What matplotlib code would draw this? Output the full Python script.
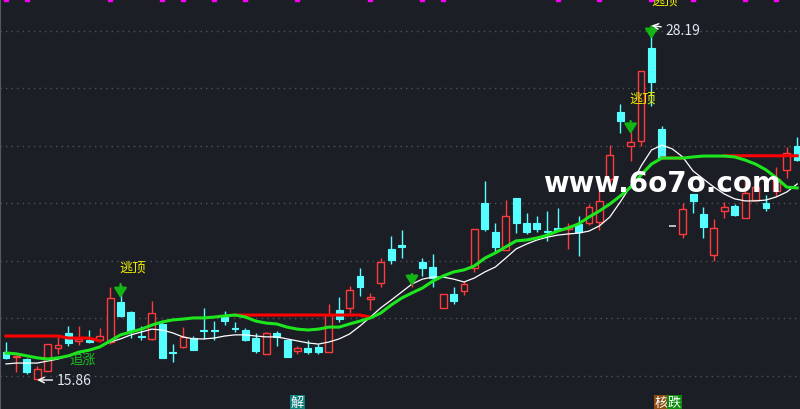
import matplotlib
matplotlib.use('Agg')
import matplotlib.pyplot as plt
import matplotlib.transforms as mtransforms
from matplotlib.patches import Rectangle
import numpy as np

plt.rcParams['font.family'] = ['Noto Sans CJK SC', 'DejaVu Sans']

# daily candles
opens = [16.83, 16.66, 16.59, 15.90, 16.17, 16.97, 17.50, 17.22, 17.25, 17.25,
         17.18, 18.57, 18.23, 17.39, 17.29, 17.81, 16.83, 17.01, 17.32, 17.60,
         17.60, 18.05, 17.67, 17.60, 17.32, 16.77, 17.50, 17.25, 16.87, 16.97,
         17.01, 16.83, 18.30, 18.37, 19.48, 18.68, 19.23, 20.42, 20.56, 19.37,
         19.97, 19.79, 18.37, 18.85, 18.96, 19.76, 22.02, 21.01, 20.38, 22.19,
         21.32, 21.32, 21.04, 21.15, 21.11, 21.29, 21.32, 21.36, 22.85, 25.18,
         24.00, 24.17, 27.41, 24.59, 21.22, 20.94, 22.33, 21.63, 20.21, 21.74,
         21.91, 21.50, 22.12, 22.02, 22.43, 23.17, 24.00]
highs = [17.18, 16.73, 16.63, 16.35, 17.11, 17.36, 17.74, 17.74, 17.60, 17.67,
         19.10, 19.17, 18.26, 17.74, 18.61, 17.91, 17.11, 17.70, 17.39, 18.37,
         17.91, 18.26, 17.88, 17.67, 17.50, 17.53, 17.57, 17.25, 17.04, 17.25,
         17.11, 18.50, 18.75, 19.13, 19.76, 18.89, 20.10, 20.87, 21.08, 19.51,
         20.10, 20.24, 18.85, 19.10, 19.30, 21.11, 22.78, 21.32, 22.12, 22.19,
         21.67, 21.57, 21.74, 21.84, 21.32, 21.57, 21.98, 22.43, 24.03, 25.46,
         24.49, 26.61, 28.19, 24.70, 21.22, 22.02, 22.33, 21.88, 21.46, 22.05,
         21.98, 22.78, 22.92, 22.30, 23.27, 23.97, 24.31]
lows = [16.59, 16.14, 16.07, 15.86, 16.17, 16.77, 17.04, 17.08, 17.15, 17.18,
        17.11, 18.05, 17.32, 17.25, 17.25, 16.63, 16.49, 16.97, 16.90, 17.29,
        17.25, 17.77, 17.53, 17.22, 16.80, 16.77, 17.04, 16.66, 16.77, 16.77,
        16.77, 16.83, 17.88, 18.19, 18.78, 18.30, 19.10, 19.90, 20.10, 19.10,
        19.48, 19.10, 18.37, 18.50, 18.82, 19.62, 21.04, 20.31, 20.38, 20.97,
        20.94, 21.01, 20.70, 21.04, 20.42, 20.17, 21.25, 21.08, 22.75, 24.45,
        23.48, 24.00, 25.39, 23.55, 21.22, 20.80, 21.67, 20.80, 20.00, 21.50,
        21.57, 21.50, 22.12, 21.74, 22.26, 22.89, 23.48]
closes = [16.63, 16.70, 16.14, 16.24, 17.11, 17.08, 17.15, 17.29, 17.18, 17.39,
          18.71, 18.09, 17.57, 17.36, 18.19, 16.63, 16.80, 17.36, 16.90, 17.57,
          17.57, 17.91, 17.63, 17.25, 16.87, 17.50, 17.36, 16.66, 16.97, 16.83,
          16.83, 18.12, 17.98, 18.99, 19.10, 18.75, 19.97, 20.03, 20.49, 19.48,
          19.76, 19.41, 18.85, 18.61, 19.20, 21.11, 21.11, 20.49, 21.57, 21.32,
          21.01, 21.11, 21.01, 21.08, 21.18, 21.01, 21.88, 22.09, 23.69, 24.87,
          24.14, 26.61, 26.23, 23.58, 21.22, 21.81, 22.09, 21.18, 21.15, 21.88,
          21.60, 22.37, 22.57, 21.84, 22.85, 23.76, 23.51]

# moving averages
ma_white = [16.42, 16.45, 16.45, 16.45, 16.52, 16.59, 16.70, 16.80, 16.90, 17.01,
            17.18, 17.29, 17.43, 17.53, 17.63, 17.60, 17.50, 17.36, 17.29, 17.29,
            17.32, 17.39, 17.43, 17.43, 17.39, 17.36, 17.36, 17.29, 17.22, 17.15,
            17.11, 17.18, 17.29, 17.46, 17.74, 18.05, 18.37, 18.64, 18.92, 19.20,
            19.37, 19.44, 19.44, 19.37, 19.27, 19.41, 19.62, 19.79, 20.10, 20.42,
            20.59, 20.73, 20.83, 20.90, 20.94, 20.97, 21.04, 21.22, 21.53, 22.05,
            22.61, 23.30, 23.86, 24.03, 23.90, 23.62, 23.13, 22.85, 22.57, 22.33,
            22.16, 22.09, 22.09, 22.12, 22.23, 22.40, 22.68]
ma_green = [16.80, 16.77, 16.70, 16.63, 16.59, 16.63, 16.70, 16.83, 16.90, 17.01,
            17.22, 17.43, 17.53, 17.63, 17.77, 17.88, 17.95, 17.98, 18.02, 18.02,
            18.05, 18.09, 18.12, 18.05, 17.91, 17.84, 17.81, 17.70, 17.63, 17.60,
            17.63, 17.70, 17.70, 17.81, 17.91, 18.02, 18.19, 18.47, 18.71, 18.89,
            19.06, 19.30, 19.48, 19.62, 19.69, 19.83, 20.10, 20.28, 20.49, 20.70,
            20.73, 20.80, 20.90, 21.04, 21.15, 21.29, 21.53, 21.74, 21.98, 22.26,
            22.57, 22.99, 23.37, 23.58, 23.58, 23.58, 23.62, 23.65, 23.65, 23.65,
            23.62, 23.51, 23.37, 23.17, 22.89, 22.57, 22.54]
na = None
res_line = [17.39, 17.39, 17.39, 17.39, 17.39, 17.39, 17.32, 17.32, 17.32, 17.22,
            na, na, na, na, na, na, na, na, na, na,
            na, na, 18.12, 18.12, 18.12, 18.12, 18.12, 18.12, 18.12, 18.12,
            18.12, 18.12, 18.12, 18.12, 18.12, 18.05, na, na, na, na,
            na, na, na, na, na, na, na, na, na, na,
            na, na, na, na, na, na, na, na, na, na,
            na, na, na, 23.58, 23.58, 23.58, na, na, na, 23.66,
            23.66, 23.66, 23.66, 23.66, 23.66, 23.66, 23.66]

top_marks = [0, 2, 10, 15, 17, 20, 23, 28, 35, 40, 42, 53, 57, 62, 66, 71, 74]

# sell arrows (top, tip) and labels
arrow_idx = [11, 39, 60, 62]
arrow_top = [19.20, 19.55, 24.87, 28.17]
arrow_tip = [18.71, 19.13, 24.42, 27.72]
top_label_idx = [10.85, 59.9, 61.95]
top_label_y = [19.79, 25.67, 29.08]

bg = '#1b1e25'
cyan = '#55ffff'
red = '#ff3b3b'

fig = plt.figure(figsize=(8, 4.1), dpi=100, facecolor=bg)
ax = fig.add_axes([0, 0, 1, 1], facecolor=bg)
n = len(opens)
ax.set_xlim(-0.576, 76.27)
ax.set_ylim(14.852, 29.113)

for g in range(16, 30, 2):
    ax.axhline(g, color='#4f535b', lw=1, ls=(0, (1, 3)), zorder=1)

w = 0.66
for i in range(n):
    o, h, l, c = opens[i], highs[i], lows[i], closes[i]
    if o == h == l == c:
        ax.hlines(c, i - 0.35, i + 0.35, color='#d8d8d8', lw=1.2, zorder=2)
    elif c >= o:
        ax.vlines(i, c, h, color=red, lw=1, zorder=2)
        ax.vlines(i, l, o, color=red, lw=1, zorder=2)
        ax.add_patch(Rectangle((i - w / 2, o), w, max(c - o, 0.02), facecolor=bg,
                               edgecolor=red, lw=1, zorder=2))
    else:
        ax.vlines(i, l, h, color=cyan, lw=1, zorder=2)
        ax.add_patch(Rectangle((i - w / 2, c), w, o - c, facecolor=cyan,
                               edgecolor=cyan, lw=0.8, zorder=2))

xs = np.arange(n)
res = np.array([np.nan if v is None else v for v in res_line], dtype=float)
ax.plot(xs, res, color='#ff0000', lw=2.2, zorder=3)
ax.plot(xs, ma_white, color='white', lw=0.9, zorder=4)
ax.plot(xs, ma_green, color='#1ee61e', lw=2.2, zorder=5)

# magenta ticks along the top edge
trans = mtransforms.blended_transform_factory(ax.transData, ax.transAxes)
ax.plot(top_marks, [0.999] * len(top_marks), ls='none', marker='s', ms=3,
        color='#ff00ff', transform=trans, clip_on=False, zorder=6)

for i, t, b in zip(arrow_idx, arrow_top, arrow_tip):
    ax.annotate('', xy=(i, b), xytext=(i, t),
                arrowprops=dict(arrowstyle='-|>,head_length=0.6,head_width=0.38',
                                color='#14b414', lw=1.6, shrinkA=0, shrinkB=0,
                                mutation_scale=10), zorder=7)
for xi, yi in zip(top_label_idx, top_label_y):
    ax.text(xi, yi, '逃顶', color='#f0f000', fontsize=9.5, ha='left', va='center', zorder=7)
ax.text(6.05, 16.59, '追涨', color='#22c022', fontsize=9.5, ha='left', va='center', zorder=7)

# extreme price labels
ax.annotate('15.86', xy=(3, 15.86), xytext=(14, 0), textcoords='offset points',
            color='#dfe7f0', fontsize=10, va='center', ha='left',
            arrowprops=dict(arrowstyle='->', color='white', lw=1, shrinkA=1, shrinkB=0),
            zorder=7)
ax.annotate('28.19', xy=(62, 28.19), xytext=(10, -3), textcoords='offset points',
            color='#dfe7f0', fontsize=10, va='center', ha='left',
            arrowprops=dict(arrowstyle='->', color='white', lw=1, shrinkA=1, shrinkB=0),
            zorder=7)

# bottom signal tags
ax.text(28, 0.017, '解', transform=trans, color='white', fontsize=9.5, ha='center',
        va='center', bbox=dict(boxstyle='square,pad=0.05', fc='#0b7c78', ec='none'), zorder=7)
ax.text(62.95, 0.017, '核', transform=trans, color='white', fontsize=9.5, ha='center',
        va='center', bbox=dict(boxstyle='square,pad=0.05', fc='#8a4a10', ec='none'), zorder=7)
ax.text(64.2, 0.017, '跌', transform=trans, color='white', fontsize=9.5, ha='center',
        va='center', bbox=dict(boxstyle='square,pad=0.05', fc='#0c8a0c', ec='none'), zorder=7)

# watermark
ax.text(0.827, 0.551, 'www.6o7o.com', transform=ax.transAxes, color='white',
        fontsize=20, fontweight='bold', family='DejaVu Sans', ha='center', va='center',
        zorder=8)

for s in ['top', 'right', 'bottom']:
    ax.spines[s].set_visible(False)
ax.spines['left'].set_color('#55585f')
ax.set_xticks([])
ax.set_yticks([])

fig.savefig('out.png', dpi=100, facecolor=bg)
